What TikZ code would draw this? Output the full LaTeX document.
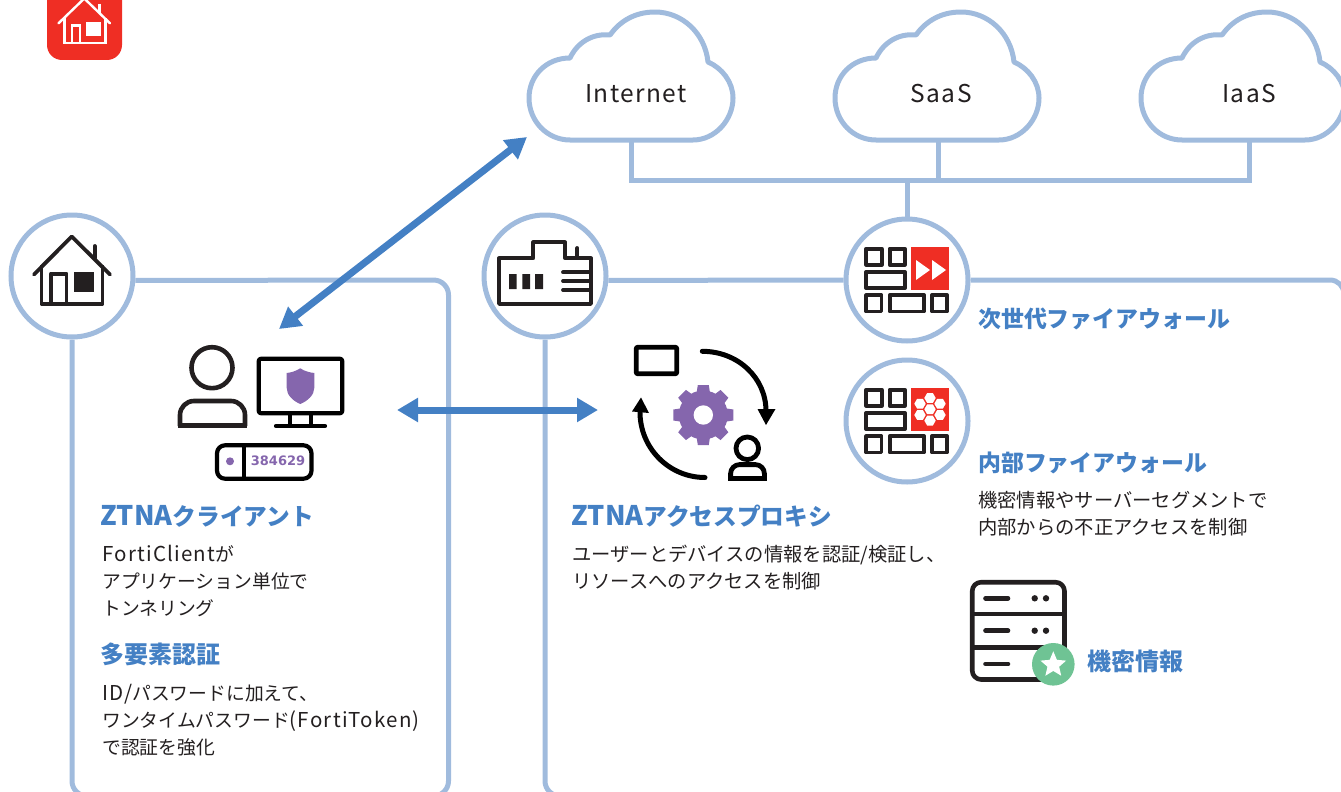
\documentclass[tikz,border=0pt]{standalone}
\usepackage{fontspec}
\setmainfont{Noto Sans CJK JP}
\newfontfamily\cloudfont[LetterSpace=6]{Noto Sans CJK JP}
\newfontfamily\latfont[LetterSpace=6]{Noto Sans CJK JP}
\newfontfamily\tokenfont{DejaVu Sans}
\usetikzlibrary{arrows.meta,shapes.geometric}
\definecolor{wirec}{HTML}{A0BBDD}
\definecolor{bluec}{HTML}{4480C4}
\definecolor{redc}{HTML}{EF2E24}
\definecolor{inkc}{HTML}{231F20}
\definecolor{purplec}{HTML}{8566AD}
\definecolor{greenc}{HTML}{6FC394}
\tikzset{
  wire/.style={draw=wirec,line width=5pt,line join=round},
  hub/.style={circle,draw=wirec,fill=white,line width=5pt,minimum size=122pt,inner sep=0pt},
  link/.style={draw=bluec,line width=7pt,{Triangle[length=21pt,width=23pt]}-{Triangle[length=21pt,width=23pt]}},
  ink/.style={draw=inkc,line width=3.8pt,line join=round},
  inkk/.style={draw=black,line width=4.8pt,line join=round},
  head/.style={anchor=west,inner sep=0pt,text=bluec,font=\fontsize{22.9}{23}\selectfont\bfseries},
  headz/.style={head,font=\fontsize{23.7}{24}\selectfont\bfseries},
  headk/.style={head,font=\fontsize{24}{24}\selectfont\bfseries},
  body/.style={anchor=west,inner sep=0pt,text=inkc,align=left,font=\fontsize{18.8}{27}\selectfont},
  bodyr/.style={body,font=\fontsize{19.3}{27}\selectfont},
  cloudtext/.style={inner sep=0pt,text=inkc,font=\fontsize{24.5}{24}\selectfont\cloudfont},
}
\newcommand{\lat}[1]{{\fontsize{20.5}{27}\selectfont\latfont #1}}
\newcommand{\ztna}{{\fontsize{27}{27}\selectfont ZTNA}}
\newcommand{\cloudshape}[1]{%
  \draw[wire,fill=white,xshift=#1pt] (570,140) -- (693,140)
    .. controls (715,140) and (733,120) .. (733,98)
    .. controls (733,82) and (722,68) .. (708,62)
    .. controls (705,33) and (682,12) .. (655,12)
    .. controls (635,12) and (620,21) .. (610,35)
    .. controls (592,33) and (577,43) .. (570,58)
    .. controls (546,58) and (529,76) .. (529,98)
    .. controls (529,121) and (547,140) .. (570,140) -- cycle;}
\newcommand{\fwgrid}{%
  \draw[ink] (866.2,248.6) rectangle (881.6,264.8)
    (889.6,248.6) rectangle (904.8,264.8)
    (866.2,271.9) rectangle (904.8,288.1)
    (866.2,295.2) rectangle (881.4,311.4)
    (889.6,295.2) rectangle (924.1,311.4)
    (931.9,295.2) rectangle (947.1,311.4);
  \fill[redc] (910.7,246.7) rectangle (949,290);}
\newcommand{\hexcell}[2]{\fill[white,shift={(#1,#2)}] (0:5.7) -- (60:5.7) -- (120:5.7) -- (180:5.7) -- (240:5.7) -- (300:5.7) -- cycle;}
\begin{document}
\begin{tikzpicture}[x=1pt,y=-1pt]
\useasboundingbox (0,0) rectangle (1341,792);
\clip (0,0) rectangle (1341,792);
% badge
\fill[redc,rounded corners=15pt] (47,-30) rectangle (122,60);
\draw[white,line width=2.4pt,line join=round,line cap=round] (58.5,23.3) -- (84.3,-1.5) -- (110,23.3);
\draw[white,line width=2.4pt] (64.5,18) -- (64.5,43.3) -- (105.5,43.3) -- (105.5,18)
  (72,43.3) -- (72,25.5) -- (80,25.5) -- (80,43.3) (99.3,4) -- (99.3,13);
\fill[white] (86,21.7) rectangle (100.7,36);
% clouds
\cloudshape{0}\cloudshape{306}\cloudshape{612}
\node[cloudtext] (internet) at (636,94) {Internet};
\node[cloudtext] (saas) at (941,94) {SaaS};
\node[cloudtext] (iaas) at (1249,94) {IaaS};
\coordinate (inetb) at (631,140);
\coordinate (saasb) at (938,140);
\coordinate (iaasb) at (1249,140);
\coordinate (busl) at (631,180);
\coordinate (busm) at (938,180);
\coordinate (busr) at (1249,180);
\coordinate (busj) at (907,180);
\draw[wire,line join=miter] (inetb) -- (busl) -- (busr) -- (iaasb);
\draw[wire] (saasb) -- (busm);
% hubs
\node[hub] (home) at (72,276) {};
\node[hub] (office) at (545,276) {};
\node[hub] (fwa) at (907,280) {};
\node[hub] (fwb) at (907,421) {};
\draw[wire] (busj) -- (fwa.north);
% frames
\coordinate (a1) at (448.5,280); \coordinate (a2) at (448.5,796); \coordinate (a3) at (72,796);
\draw[wire,rounded corners=15pt] (home.-4) -- (a1) -- (a2) -- (a3) -- (home.south);
\coordinate (b4) at (545,796); \coordinate (b5) at (620,796);
\coordinate (c1) at (1344,280); \coordinate (c2) at (1344,310);
\draw[wire] (office.-4) -- (fwa.180);
\draw[wire,rounded corners=14pt] (fwa.east) -- (c1) -- (c2);
\draw[wire,rounded corners=15pt] (office.south) -- (b4) -- (b5);
% home icon
\draw[ink,line cap=round] (34,274.5) -- (71.7,236.5) -- (110,274.5);
\draw[ink] (41.5,265) -- (41.5,304) -- (102.5,304) -- (102.5,265)
  (51,304) -- (51,273.6) -- (66.5,273.6) -- (66.5,304);
\draw[ink,line cap=round] (94.7,246) -- (94.7,258);
\fill[inkc] (74,272) rectangle (94,292);
% office icon
\draw[ink] (499,258.3) -- (533.3,258.3) -- (533.3,242.3) -- (565,242.3) -- (565,258.3) -- (591,258.3) -- (591,304) -- (499,304) -- cycle;
\draw[ink,line cap=round] (577.3,248) -- (577.3,258);
\fill[inkc] (509,274) rectangle (516.7,289) (522.3,274) rectangle (530,289) (535,274) rectangle (543,289);
\draw[ink,line cap=round] (563,272.3) -- (591,272.3) (563,281) -- (591,281) (563,290) -- (591,290);
% firewall icons
\fwgrid
\fill[white] (916,260) -- (930,270) -- (916,280) -- cycle (932,260) -- (946,270) -- (932,280) -- cycle;
\begin{scope}[yshift=-141pt]
\fwgrid
\end{scope}
\hexcell{930}{398}\hexcell{930}{409.3}\hexcell{930}{420.6}
\hexcell{920}{403.7}\hexcell{940}{403.7}\hexcell{920}{415}\hexcell{940}{415}
% client icons
\draw[inkk,line width=4.6pt,draw=inkc] (212,367.7) circle (20.5);
\draw[inkk,line width=4.6pt,draw=inkc,rounded corners=14pt] (180,426) -- (180,401) -- (245,401) -- (245,426);
\draw[inkk,line width=4.6pt,draw=inkc] (178,425.3) -- (247,425.3);
\draw[inkk,line width=4.2pt,rounded corners=2pt] (258.8,358.8) rectangle (342.2,413.2);
\draw[inkk,line width=4.2pt] (290,415) -- (290,426) (311,415) -- (311,426);
\draw[inkk,line width=4.2pt,line cap=round] (276,426) -- (325,426);
\fill[purplec] (300.3,368.3) .. controls (295,371.5) and (291,372.5) .. (286.7,373) -- (286.7,388)
  .. controls (286.7,395) and (293,401) .. (300.3,404)
  .. controls (307.6,401) and (314.3,395) .. (314.3,388) -- (314.3,373)
  .. controls (310,372.5) and (305,371.5) .. (300.3,368.3) -- cycle;
\draw[inkk,line width=4.2pt,rounded corners=8pt] (217,445.3) rectangle (311.5,478.7);
\draw[inkk,line width=4.2pt] (243.7,445.3) -- (243.7,478.7);
\fill[purplec] (230,461.3) circle (4);
\node[inner sep=0pt,text=purplec,font=\fontsize{13}{13}\selectfont\tokenfont\bfseries] (token) at (278,461) {384629};
% proxy icons
\coordinate (gc) at (703.3,415);
\draw[inkk,rounded corners=1pt] (636.3,347.3) rectangle (676.7,373.7);
\draw[draw=black,line width=5pt,line cap=round] (702.3,351.3) .. controls (738,351.3) and (766,378) .. (766,411);
\fill[black] (757.5,409) -- (775.5,409) -- (766,425) -- cycle;
\draw[draw=black,line width=5pt,line cap=round] (705,477.5) .. controls (669,477.5) and (639.5,448) .. (640,411);
\fill[black] (632,411.5) -- (641,397.5) -- (649,413) -- cycle;
\foreach \a in {0,45,...,315}
  \fill[purplec,shift={(gc)},rotate=\a] (-7,-20) -- (-5.5,-30) -- (5.5,-30) -- (7,-20) -- cycle;
\fill[purplec] (gc) circle (24.5);
\fill[white] (gc) circle (9.7);
\draw[inkk] (747.3,448.3) circle (11.3);
\draw[inkk,rounded corners=9pt] (730.6,479) -- (730.6,464.6) -- (764.4,464.6) -- (764.4,479);
\draw[inkk] (728.3,478.4) -- (766.7,478.4);
% server
\draw[inkk,draw=inkc,line width=4.6pt,rounded corners=9pt] (972.2,582.2) rectangle (1064.5,679.5);
\draw[inkk,draw=inkc,line width=4.6pt] (972,614) -- (1064,614) (972,647.3) -- (1064,647.3);
\draw[inkk,draw=inkc,line width=4.6pt,line cap=round] (985.5,598.3) -- (1008,598.3) (985.5,630.7) -- (1008,630.7) (985.5,664) -- (1008,664);
\fill[inkc] (1034.7,598.3) circle (3.2) (1046,598.3) circle (3.2) (1034.7,630.7) circle (3.2) (1046,630.7) circle (3.2);
\fill[greenc] (1053.3,664.3) circle (21.3);
\node[star,star points=5,star point ratio=2.2,fill=white,minimum size=27pt,inner sep=0pt] (starmark) at (1053.3,664.8) {};
% arrows
\coordinate (d1) at (527,137); \coordinate (d2) at (279,329);
\coordinate (h1) at (397,410); \coordinate (h2) at (598,410);
\draw[link] (d1) -- (d2);
\draw[link] (h1) -- (h2);
% text
\node[headz] (t1) at (100,516.5) {\ztna クライアント};
\node[body] (t2) at (102,581) {\lat{FortiClient}が\\アプリケーション単位で\\トンネリング};
\node[headk] (t3) at (100,654.5) {多要素認証};
\node[body] (t4) at (102,720) {\lat{ID/}パスワードに加えて、\\ワンタイムパスワード\lat{(FortiToken)}\\で認証を強化};
\node[headz] (t5) at (571,516.5) {\ztna アクセスプロキシ};
\node[bodyr] (t6) at (572,567.5) {ユーザーとデバイスの情報を認証/検証し、\\リソースへのアクセスを制御};
\node[head] (t7) at (978,318.5) {次世代ファイアウォール};
\node[head] (t8) at (978,462.5) {内部ファイアウォール};
\node[bodyr] (t9) at (978,514) {機密情報やサーバーセグメントで\\内部からの不正アクセスを制御};
\node[headk] (t10) at (1087,661.5) {機密情報};
\end{tikzpicture}
\end{document}
